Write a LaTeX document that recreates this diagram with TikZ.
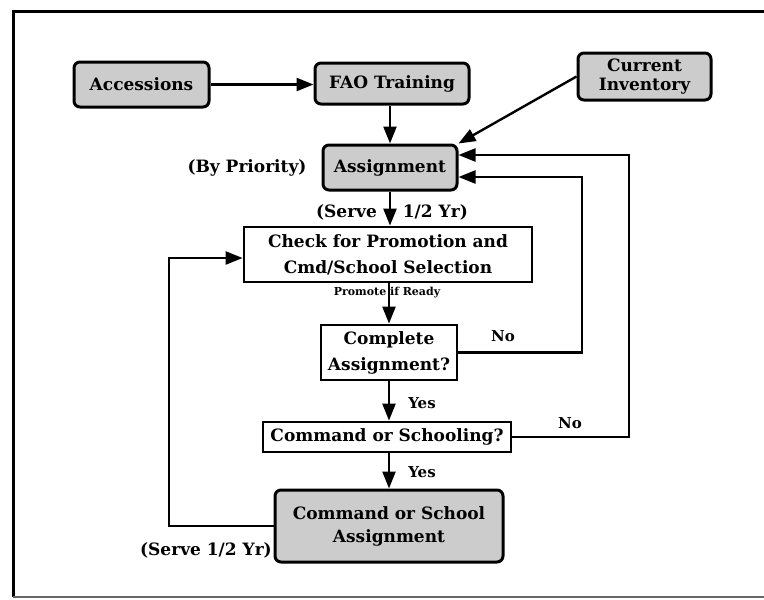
\documentclass[tikz,border=0pt]{standalone}
\usepackage{fontspec}
\setmainfont{DejaVu Serif}
\usetikzlibrary{arrows.meta}
\begin{document}
\begin{tikzpicture}[x=1pt,y=-1pt,
  shaded/.style={draw, line width=3pt, rounded corners=6pt, fill=black!20, inner sep=0pt, align=center, font=\bfseries\fontsize{17}{23}\selectfont},
  plain/.style={draw, line width=2.8pt, fill=white, inner sep=0pt, align=center, font=\bfseries\fontsize{17}{26}\selectfont},
  conn/.style={line width=2.4pt},
  arr/.style={conn, -{Triangle[length=17pt,width=13pt]}},
  lbl/.style={inner sep=0pt, font=\bfseries\fontsize{17}{20}\selectfont},
  small/.style={inner sep=0pt, font=\bfseries\fontsize{15}{16}\selectfont},
  tiny/.style={inner sep=0pt, font=\bfseries\fontsize{11}{12}\selectfont}]
\useasboundingbox (0,0) rectangle (764,600);
% frame
\draw[line width=3pt] (764,11) -- (13,11) -- (13,597);
\draw[line width=1.5pt, black!60] (13,597) -- (764,597);
% nodes
\node[shaded, minimum width=135pt, minimum height=45pt] (acc) at (141.5,84.5) {Accessions};
\node[shaded, minimum width=154pt, minimum height=41pt] (fao) at (392,83.5) {FAO Training};
\node[shaded, minimum width=133pt, minimum height=47pt, font=\bfseries\fontsize{17}{19}\selectfont] (ci) at (644.5,76.5) {Current\\Inventory};
\node[shaded, minimum width=134pt, minimum height=45pt] (asg) at (390,167.5) {Assignment};
\node[plain, minimum width=288pt, minimum height=55pt] (chk) at (388,254.5) {Check for Promotion and\\Cmd/School Selection};
\node[plain, minimum width=136pt, minimum height=55pt] (cmp) at (389,352.5) {Complete\\Assignment?};
\node[plain, minimum width=248pt, minimum height=30pt] (cos) at (387,437) {Command or Schooling?};
\node[shaded, minimum width=228pt, minimum height=72pt] (csa) at (389,526) {Command or School\\Assignment};
% labels
\node[lbl] (byp) at (247,168) {(By Priority)};
\node[lbl] (srv1) at (392,212) {(Serve\hspace*{26pt}1/2 Yr)};
\node[tiny] (prom) at (387,293) {Promote if Ready};
\node[small] (no1) at (503,336) {No};
\node[small] (no2) at (570,423) {No};
\node[small] (yes1) at (422,403) {Yes};
\node[small] (yes2) at (422,472) {Yes};
\node[lbl, anchor=east] (srv2) at (272,550) {(Serve 1/2 Yr)};
% bend points
\coordinate (k1) at (582,177);
\coordinate (k2) at (629,155);
\coordinate (k3) at (169,258);
% connectors
\draw[arr] (acc.east) -- (acc.east -| fao.west);
\draw[arr] (asg.north |- fao.south) -- (asg.north);
\draw[arr] (ci.west) -- (asg.north east);
\draw[arr] (asg.south) -- (asg.south |- chk.north);
\draw[arr] (cmp.north |- chk.south) -- (cmp.north);
\draw[arr] (cmp.south) -- (cmp.south |- cos.north);
\draw[arr] (csa.north |- cos.south) -- (csa.north);
\draw[arr] (cmp.east) -| (k1) -- (k1 -| asg.east);
\draw[arr] (cos.east) -| (k2) -- (k2 -| asg.east);
\draw[arr] (csa.west) -| (k3) -- (k3 -| chk.west);
\end{tikzpicture}
\end{document}
